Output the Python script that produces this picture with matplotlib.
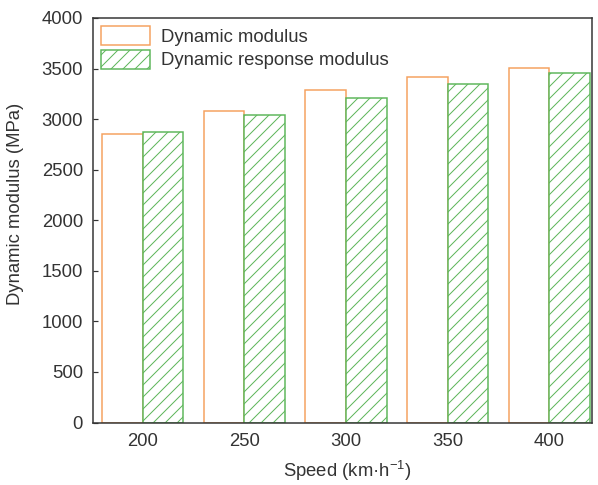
import matplotlib
matplotlib.use("Agg")
import matplotlib.pyplot as plt
import numpy as np

plt.rcParams['font.family'] = ['Liberation Sans', 'DejaVu Sans']
plt.rcParams['mathtext.fontset'] = 'custom'
plt.rcParams['mathtext.rm'] = 'Liberation Sans'
plt.rcParams['mathtext.default'] = 'regular'
plt.rcParams['hatch.linewidth'] = 1.0

speeds = [200, 250, 300, 350, 400]
dynamic_modulus = [2855, 3080, 3285, 3415, 3510]
response_modulus = [2870, 3045, 3210, 3345, 3455]

orange = '#F5A15E'
green = '#5DB65A'
text_color = '#333333'
fs = 18.5

fig = plt.figure(figsize=(598 / 72, 485 / 72), dpi=72)
ax = fig.add_axes([93 / 598, 1 - 422.5 / 485, (592 - 93) / 598, (422.5 - 18) / 485])

width = 20
x = np.array(speeds, dtype=float)
ax.bar(x - width / 2, dynamic_modulus, width=width, facecolor='white',
       edgecolor=orange, linewidth=1.5, label='Dynamic modulus')
ax.bar(x + width / 2, response_modulus, width=width, facecolor='white',
       edgecolor=green, linewidth=1.5, hatch='//', label='Dynamic response modulus')

ax.set_xlim(175.5, 421)
ax.set_ylim(0, 4000)
ax.set_xticks(speeds)
ax.set_yticks(np.arange(0, 4001, 500))
ax.tick_params(axis='x', length=0, pad=11, labelsize=fs, labelcolor=text_color)
ax.tick_params(axis='y', direction='in', length=5, width=1.2, pad=10,
               labelsize=fs, labelcolor=text_color, color='#333333')
for s in ax.spines.values():
    s.set_linewidth(1.5)
    s.set_color('#333333')

ax.set_xlabel('Speed (km·h$^{-1}$)', fontsize=fs, color=text_color)
ax.set_ylabel('Dynamic modulus (MPa)', fontsize=fs, color=text_color)
ax.xaxis.set_label_coords(0.51, (422.5 - 459) / 404.5)
ax.yaxis.set_label_coords((7 - 93) / 499, (422.5 - 204) / 404.5)
ax.yaxis.label.set_va('top')

ax.legend(loc='upper left', frameon=False, fontsize=fs, handlelength=2.65,
          handleheight=1.2, handletextpad=0.55, labelspacing=0.2,
          borderpad=0.2, borderaxespad=0.25, labelcolor=text_color)

fig.savefig('out.png', dpi=72)
